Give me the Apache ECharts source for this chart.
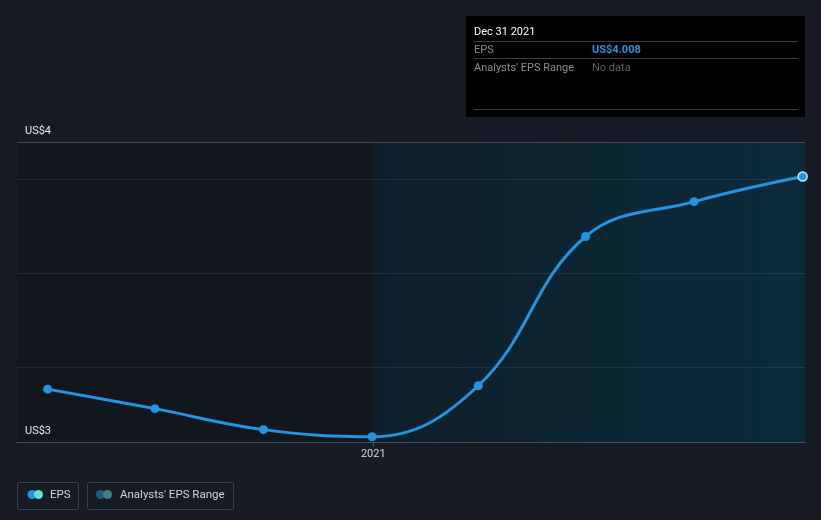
<!DOCTYPE html>
<html>
<head>
<meta charset="utf-8">
<script src="https://cdn.jsdelivr.net/npm/echarts@6/dist/echarts.min.js"></script>
<style>
html,body{margin:0;padding:0;background:#161b25;}
#c{width:821px;height:520px;}
</style>
</head>
<body>
<div id="c"></div>
<script>
// ---- data ----
var dates = ['2020-03-31','2020-06-30','2020-09-30','2020-12-31','2021-03-31','2021-06-30','2021-09-30','2021-12-31'];
var eps = [3.441, 3.389, 3.333, 3.314, 3.450, 3.848, 3.941, 4.008];
var yTickValues = [3.3, 4.1];
var yTickLabels = ['US$3', 'US$4'];
var xTickDates = ['2021-01-01'];
var xTickLabels = ['2021'];
var gridValues = [3.5, 3.75, 4.0];
var xRange = ['2020-03-05', '2022-01-02'];
var actualStart = '2020-12-31';
var tooltipDate = 'Dec 31 2021';
var seriesName = 'EPS';
var rangeName = "Analysts' EPS Range";

function ts(d){ return Date.parse(d + 'T00:00:00Z'); }
function nearestIdx(arr, v, tol){ for (var i=0;i<arr.length;i++){ if (Math.abs(arr[i]-v) <= tol) return i; } return -1; }
var lineData = dates.map(function(d,i){
  var p = {value:[ts(d), eps[i]]};
  if (i === dates.length-1) p.itemStyle = {color:'#2394df', borderColor:'#bfe6ff', borderWidth:1.5};
  return p;
});
var xMin = ts(xRange[0]), xMax = ts(xRange[1]);
var xTickTs = xTickDates.map(ts);
var F = 'Roboto, "Noto Sans", sans-serif';

var yLabelLines = yTickValues.map(function(v,i){
  var isTop = i === yTickValues.length-1;
  return {
    yAxis:v,
    lineStyle:{color:isTop ? '#474c55' : 'rgba(0,0,0,0)', width:1, type:'solid'},
    label:{show:true, position:'insideStartTop', formatter:yTickLabels[i], color:'#e6e8eb', fontSize:11, fontFamily:F, distance:5, padding:[0,0,0,3]}
  };
});

var chart = echarts.init(document.getElementById('c'), null, {renderer:'canvas'});
chart.setOption({
  backgroundColor:'#161b25',
  animation:false,
  grid:{left:17, right:16, top:142, bottom:78},
  xAxis:{
    type:'value', min:xMin, max:xMax, scale:true,
    axisLine:{show:true, lineStyle:{color:'#4a4e56', width:1}},
    axisTick:{show:true, customValues:xTickTs, length:5, lineStyle:{color:'#4a4e56'}},
    axisLabel:{customValues:xTickTs, color:'#d0d3d8', fontSize:11, fontFamily:F, margin:7,
      formatter:function(v){ var i = nearestIdx(xTickTs, v, 1000); return i>=0 ? xTickLabels[i] : ''; }},
    splitLine:{show:false}
  },
  yAxis:{
    type:'value', min:yTickValues[0], max:yTickValues[yTickValues.length-1],
    axisLine:{show:false}, axisTick:{show:false}, splitLine:{show:false}, axisLabel:{show:false}
  },
  series:[
    {
      type:'line', data:[], z:1, silent:true,
      markArea:{silent:true, data:[
        [{xAxis:xMin, itemStyle:{color:'#12161d'}},{xAxis:ts(actualStart)}],
        [{xAxis:ts(actualStart), itemStyle:{color:{type:'linear',x:0,y:0,x2:1,y2:0,colorStops:[{offset:0,color:'#0e1f2a'},{offset:1,color:'#0b2b3b'}]}}},{xAxis:xMax}]
      ]}
    },
    {
      type:'line', data:[], z:2, silent:true,
      markLine:{silent:true, symbol:'none', label:{show:false},
        data: gridValues.map(function(v){ return {yAxis:v, lineStyle:{color:'rgba(120,140,160,0.16)', width:1, type:'solid'}}; })
          .concat(yLabelLines)
      }
    },
    {
      name:seriesName, type:'line', z:3, data:lineData,
      smooth:0.4,
      symbol:'circle', symbolSize:9,
      lineStyle:{color:'#2394df', width:3},
      itemStyle:{color:'#2394df'}
    }
  ],
  graphic:[
    {type:'text', right:24, top:148, style:{text:'Actual', fill:'#e6e8eb', font:'11px '+F}},
    {type:'rect', shape:{x:466, y:16, width:339, height:101}, style:{fill:'#000000'}},
    {type:'text', x:474, y:32.5, style:{text:tooltipDate, fill:'#ffffff', font:'11px '+F, verticalAlign:'middle'}},
    {type:'line', shape:{x1:474, y1:41.5, x2:798, y2:41.5}, style:{stroke:'#3a3d42', lineWidth:1}},
    {type:'text', x:474, y:50.5, style:{text:seriesName, fill:'#8a8d92', font:'11px '+F, verticalAlign:'middle'}},
    {type:'text', x:592, y:50.5, style:{text:'US$' + eps[eps.length-1].toFixed(3), fill:'#2394df', font:'bold 11px '+F, verticalAlign:'middle'}},
    {type:'line', shape:{x1:474, y1:58.5, x2:798, y2:58.5}, style:{stroke:'#3a3d42', lineWidth:1}},
    {type:'text', x:474, y:68, style:{text:rangeName, fill:'#8a8d92', font:'11px '+F, verticalAlign:'middle'}},
    {type:'text', x:592, y:68, style:{text:'No data', fill:'#5e6166', font:'11px '+F, verticalAlign:'middle'}},
    {type:'line', shape:{x1:474, y1:109.5, x2:798, y2:109.5}, style:{stroke:'#3a3d42', lineWidth:1}},
    // legend
    {type:'rect', shape:{x:17.5, y:482.5, width:61, height:27, r:2}, style:{fill:'none', stroke:'#3c414a', lineWidth:1}},
    {type:'circle', shape:{cx:32, cy:494.5, r:4.5}, style:{fill:'#2394df'}},
    {type:'circle', shape:{cx:38.5, cy:494.5, r:4.5}, style:{fill:'#5fe3d6'}},
    {type:'text', x:50, y:495.5, style:{text:seriesName, fill:'#d0d3d8', font:'11.5px '+F, verticalAlign:'middle'}},
    {type:'rect', shape:{x:87.5, y:482.5, width:146, height:27, r:2}, style:{fill:'none', stroke:'#3c414a', lineWidth:1}},
    {type:'circle', shape:{cx:100.5, cy:494.5, r:4.5}, style:{fill:'#1e5a82'}},
    {type:'circle', shape:{cx:107.5, cy:494.5, r:4.5}, style:{fill:'#3d8480'}},
    {type:'text', x:120, y:495.5, style:{text:rangeName, fill:'#d0d3d8', font:'11.5px '+F, verticalAlign:'middle'}}
  ]
});
</script>
</body>
</html>
